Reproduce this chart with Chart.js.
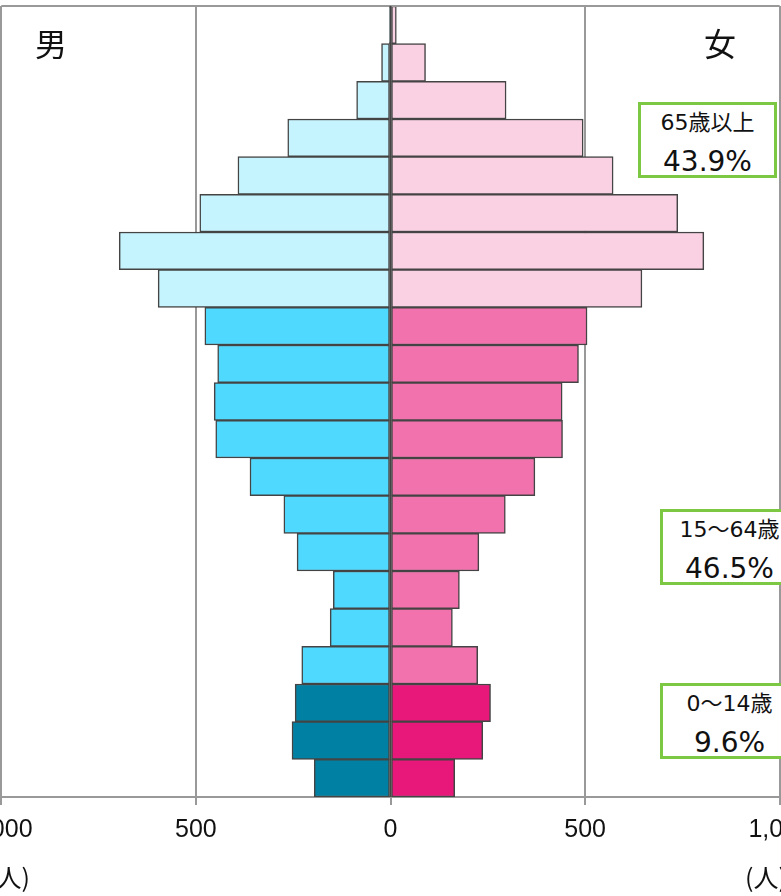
<!DOCTYPE html>
<html>
<head>
<meta charset="utf-8">
<script src="https://cdn.jsdelivr.net/npm/chart.js@4.4.0/dist/chart.umd.min.js"></script>
<style>
body { margin: 0; width: 781px; height: 896px; overflow: hidden; position: relative; background: #fff; }
#wrap { position: absolute; left: -40px; top: 0; width: 861px; height: 896px; }
.sex { position: absolute; top: 22px; font-size: 32px; font-family: "Noto Sans CJK JP", sans-serif; color: #111; line-height: 40px; }
.unit { position: absolute; top: 858px; font-size: 25px; font-family: "Noto Sans CJK JP", sans-serif; color: #111; line-height: 36px; }
.box { position: absolute; width: 139px; height: 76px; border: 3px solid #7dc843; background: #fff; box-sizing: border-box; text-align: center; font-family: "DejaVu Sans", "Noto Sans CJK JP", sans-serif; color: #111; white-space: nowrap; }
.box .a { font-size: 22px; line-height: 36px; }
.box .b { font-size: 28px; line-height: 42px; }
</style>
</head>
<body>
<div id="wrap"><canvas id="pyramid"></canvas></div>

<div class="sex" style="left:35px">男</div>
<div class="sex" style="left:704px">女</div>
<div class="unit" style="left:-12px">(人)</div>
<div class="unit" style="left:745px">(人)</div>

<div class="box" style="left:638px; top:102px"><div class="a">65歳以上</div><div class="b">43.9%</div></div>
<div class="box" style="left:660px; top:509px"><div class="a">15〜64歳</div><div class="b">46.5%</div></div>
<div class="box" style="left:660px; top:683px"><div class="a">0〜14歳</div><div class="b">9.6%</div></div>

<script>
// ---------------------------------------- data ----------------------------------------
const ageGroups = ['100歳以上', '95〜99歳', '90〜94歳', '85〜89歳', '80〜84歳', '75〜79歳', '70〜74歳',
    '65〜69歳', '60〜64歳', '55〜59歳', '50〜54歳', '45〜49歳', '40〜44歳', '35〜39歳', '30〜34歳',
    '25〜29歳', '20〜24歳', '15〜19歳', '10〜14歳', '5〜9歳', '0〜4歳'];

const male = [1, 23, 87, 264, 392, 490, 697, 597, 477, 444, 453, 449, 361, 274, 240, 147, 155, 228, 245, 253, 196];
const female = [15, 90, 297, 495, 572, 738, 805, 646, 505, 483, 441, 442, 371, 295, 227, 177, 159, 224, 257, 237, 165];

const xTicks = [-1000, -500, 0, 500, 1000];

// ---------------------------------------- colours by age band ----------------------------------------
function band(i) {
    if (i <= 7) return 0;      // 65+
    if (i <= 17) return 1;     // 15-64
    return 2;                  // 0-14
}
const maleColors = ['#c5f3fe', '#50d9fe', '#0081a3'];
const femaleColors = ['#fad0e3', '#f272ae', '#e8177a'];

// top frame line + dark centre line between the two sides
const frameLines = {
    id: 'frameLines',
    afterDraw(chart) {
        const { ctx, chartArea } = chart;
        const x0 = chart.scales.x.getPixelForValue(0);
        ctx.save();
        ctx.strokeStyle = '#999';
        ctx.lineWidth = 2;
        ctx.beginPath();
        ctx.moveTo(chartArea.left, chartArea.top);
        ctx.lineTo(chartArea.right, chartArea.top);
        ctx.stroke();
        ctx.strokeStyle = '#444';
        ctx.beginPath();
        ctx.moveTo(x0, chartArea.top);
        ctx.lineTo(x0, chartArea.bottom);
        ctx.stroke();
        ctx.restore();
    }
};

new Chart('pyramid', {
    type: 'bar',
    data: {
        labels: ageGroups,
        datasets: [{
            label: '男',
            data: male.map(v => -v),
            backgroundColor: ageGroups.map((a, i) => maleColors[band(i)]),
            borderColor: '#444',
            borderWidth: 1.5,
            borderSkipped: false,
            barPercentage: 1,
            categoryPercentage: 1
        }, {
            label: '女',
            data: female,
            backgroundColor: ageGroups.map((a, i) => femaleColors[band(i)]),
            borderColor: '#444',
            borderWidth: 1.5,
            borderSkipped: false,
            barPercentage: 1,
            categoryPercentage: 1
        }]
    },
    options: {
        indexAxis: 'y',
        responsive: true,
        maintainAspectRatio: false,
        animation: false,
        layout: { padding: { left: 41, right: 40, top: 6, bottom: 0 } },
        plugins: { legend: { display: false }, tooltip: { enabled: false } },
        scales: {
            x: {
                stacked: true,
                min: -1000,
                max: 1000,
                afterBuildTicks: s => { s.ticks = xTicks.map(v => ({ value: v })); },
                afterFit: s => { s.height = 99; },
                ticks: {
                    callback: v => Math.abs(v).toLocaleString('en-US'),
                    color: '#111',
                    font: { family: 'Liberation Sans', size: 25 },
                    padding: 10,
                    maxRotation: 0
                },
                grid: {
                    color: c => (c.tick && c.tick.value === 0) ? 'rgba(0,0,0,0)' : '#999',
                    tickColor: '#999',
                    lineWidth: 2,
                    tickLength: 8
                },
                border: { color: '#999', width: 2 }
            },
            y: {
                stacked: true,
                display: false
            }
        }
    },
    plugins: [frameLines]
});
</script>
</body>
</html>
